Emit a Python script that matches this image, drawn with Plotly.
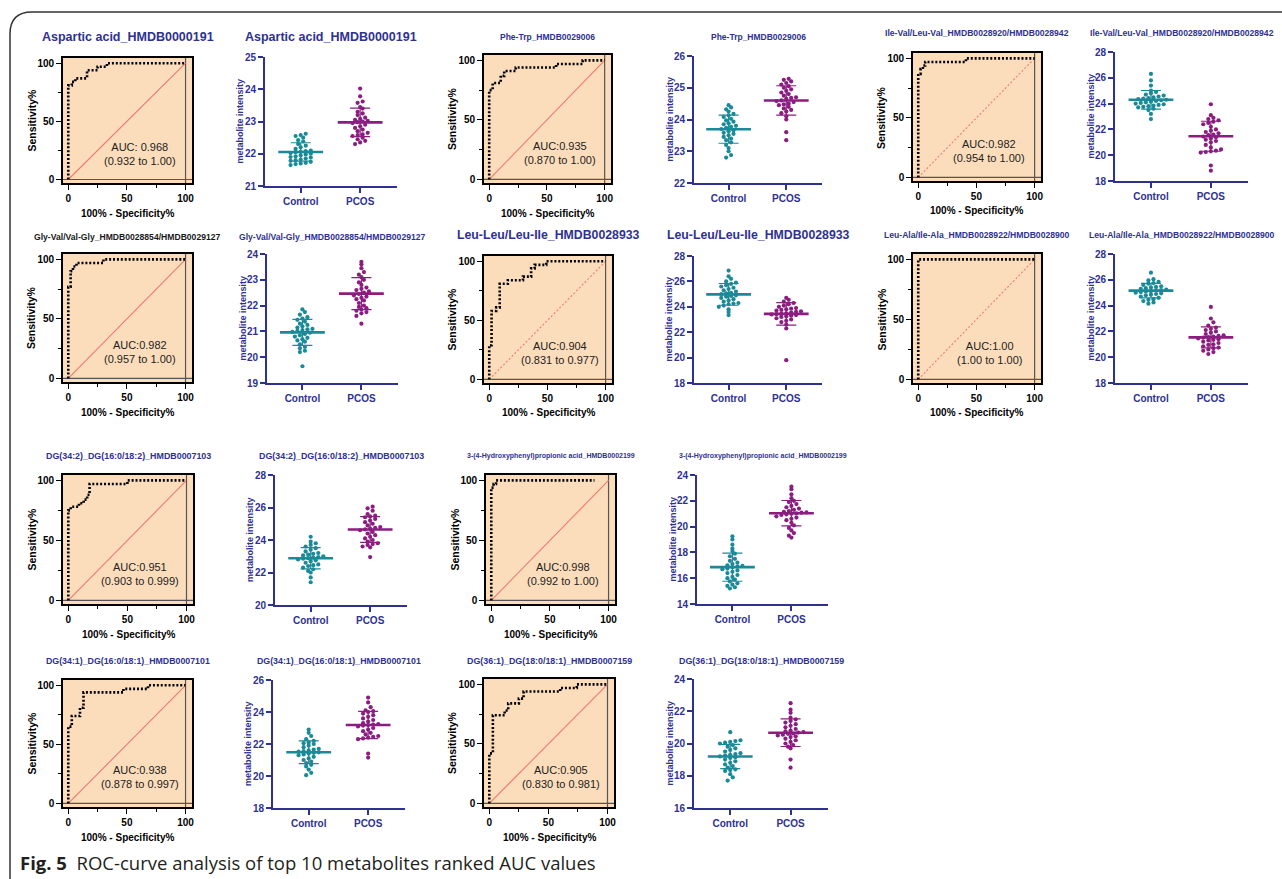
import numpy as np
import plotly.graph_objects as go

W, H = 1282, 879

# ---------------- data ----------------
metabolites = [
    "Aspartic acid_HMDB0000191",
    "Phe-Trp_HMDB0029006",
    "Ile-Val/Leu-Val_HMDB0028920/HMDB0028942",
    "Gly-Val/Val-Gly_HMDB0028854/HMDB0029127",
    "Leu-Leu/Leu-Ile_HMDB0028933",
    "Leu-Ala/Ile-Ala_HMDB0028922/HMDB0028900",
    "DG(34:2)_DG(16:0/18:2)_HMDB0007103",
    "3-(4-Hydroxyphenyl)propionic acid_HMDB0002199",
    "DG(34:1)_DG(16:0/18:1)_HMDB0007101",
    "DG(36:1)_DG(18:0/18:1)_HMDB0007159",
]
auc_labels = ["AUC: 0.968", "AUC:0.935", "AUC:0.982", "AUC:0.982", "AUC:0.904",
              "AUC:1.00", "AUC:0.951", "AUC:0.998", "AUC:0.938", "AUC:0.905"]
ci_labels = ["(0.932 to 1.00)", "(0.870 to 1.00)", "(0.954 to 1.00)", "(0.957 to 1.00)",
             "(0.831 to 0.977)", "(1.00 to 1.00)", "(0.903 to 0.999)", "(0.992 to 1.00)",
             "(0.878 to 0.997)", "(0.830 to 0.981)"]
groups = ["Control", "PCOS"]
chance = [0, 100]

# ROC curves (100% - Specificity%, Sensitivity%)
roc_fpr_asp = [0, 0, 3, 3, 6, 6, 16, 16, 25, 25, 33, 33, 100]
roc_tpr_asp = [0, 81, 81, 84, 84, 87, 87, 94, 94, 97, 97, 100, 100]
roc_fpr_phetrp = [0, 0, 3, 3, 10, 10, 13, 13, 23, 23, 58, 58, 81, 81, 100]
roc_tpr_phetrp = [0, 75, 75, 81, 81, 87, 87, 91, 91, 94, 94, 97, 97, 100, 100]
roc_fpr_ileval = [0, 0, 2, 2, 4, 4, 6, 6, 41, 41, 100]
roc_tpr_ileval = [0, 87, 87, 91, 91, 94, 94, 97, 97, 100, 100]
roc_fpr_glyval = [0, 0, 2, 2, 4, 4, 7, 7, 30, 30, 100]
roc_tpr_glyval = [0, 77, 77, 90, 90, 94, 94, 97, 97, 100, 100]
roc_fpr_leuleu = [0, 0, 2, 2, 6, 6, 9, 9, 16, 16, 29, 29, 36, 36, 39, 39, 49, 49, 100]
roc_tpr_leuleu = [0, 29, 29, 58, 58, 61, 61, 81, 81, 84, 84, 87, 87, 94, 94, 97, 97, 100, 100]
roc_fpr_leuala = [0, 0, 100]
roc_tpr_leuala = [0, 100, 100]
roc_fpr_dg342 = [0, 0, 2, 2, 9, 9, 13, 13, 16, 16, 18, 18, 50, 50, 100]
roc_tpr_dg342 = [0, 75, 75, 78, 78, 81, 81, 84, 84, 88, 88, 97, 97, 100, 100]
roc_fpr_hppa = [0, 0, 2, 2, 4, 4, 88]
roc_tpr_hppa = [0, 94, 94, 97, 97, 100, 100]
roc_fpr_dg341 = [0, 0, 3, 3, 10, 10, 13, 13, 47, 47, 68, 68, 100]
roc_tpr_dg341 = [0, 65, 65, 74, 74, 81, 81, 94, 94, 97, 97, 100, 100]
roc_fpr_dg361 = [0, 0, 3, 3, 13, 13, 16, 16, 25, 25, 29, 29, 60, 60, 74, 74, 100]
roc_tpr_dg361 = [0, 42, 42, 74, 74, 78, 78, 84, 84, 88, 88, 94, 94, 97, 97, 100, 100]

# metabolite intensities
asp_ctrl = [22.62, 22.58, 22.55, 22.5, 22.42, 22.38, 22.3, 22.25, 22.2, 22.15, 22.1, 22.08, 22.06, 22.05, 22.02,
            22.0, 21.98, 21.95, 21.92, 21.9, 21.88, 21.85, 21.82, 21.8, 21.78, 21.75, 21.72, 21.7, 21.68, 21.65]
asp_pcos = [24.02, 23.78, 23.62, 23.58, 23.45, 23.4, 23.3, 23.25, 23.2, 23.12, 23.08, 23.05, 23.02, 23.0, 22.98,
            22.95, 22.9, 22.85, 22.8, 22.75, 22.7, 22.65, 22.6, 22.58, 22.55, 22.5, 22.45, 22.4, 22.35, 22.3]
phetrp_ctrl = [23.74, 23.77, 23.8, 23.85, 23.88, 23.93, 23.97, 24.02, 24.08, 24.13, 24.18, 24.25, 24.32, 24.38, 24.45,
               23.7, 23.66, 23.63, 23.58, 23.55, 23.5, 23.45, 23.4, 23.35, 23.28, 23.2, 23.1, 23.0, 22.88, 22.8]
phetrp_pcos = [24.65, 24.68, 24.7, 24.75, 24.8, 24.85, 24.9, 24.95, 25.0, 25.05, 25.1, 25.15, 25.2, 25.25, 25.28,
               24.6, 24.58, 24.55, 24.5, 24.48, 24.45, 24.4, 24.35, 24.3, 24.25, 24.2, 24.1, 24.0, 23.6, 23.35]
ileval_ctrl = [24.26, 24.3, 24.34, 24.38, 24.42, 24.48, 24.55, 24.62, 24.7, 24.8, 24.9, 25.0, 25.4, 25.8, 26.3,
               24.2, 24.15, 24.1, 24.05, 24.0, 23.95, 23.9, 23.85, 23.8, 23.75, 23.7, 23.6, 23.5, 23.2, 22.8]
ileval_pcos = [21.55, 21.6, 21.7, 21.8, 21.9, 22.0, 22.2, 22.4, 22.5, 22.6, 22.7, 22.8, 22.9, 23.1, 23.95,
               21.45, 21.4, 21.3, 21.2, 21.1, 21.0, 20.8, 20.6, 20.45, 20.35, 20.3, 20.25, 20.2, 19.2, 18.8]
glyval_ctrl = [21.02, 21.05, 21.08, 21.1, 21.15, 21.2, 21.25, 21.3, 21.38, 21.45, 21.5, 21.55, 21.65, 21.75, 21.85,
               20.98, 20.95, 20.9, 20.85, 20.8, 20.75, 20.7, 20.65, 20.6, 20.5, 20.4, 20.35, 20.25, 20.2, 19.65]
glyval_pcos = [22.45, 22.5, 22.55, 22.6, 22.65, 22.7, 22.8, 22.9, 23.0, 23.1, 23.2, 23.3, 23.45, 23.6, 23.7,
               22.4, 22.35, 22.3, 22.25, 22.2, 22.1, 22.0, 21.95, 21.9, 21.85, 21.8, 21.75, 21.7, 21.6, 21.3]
leuleu_ctrl = [25.0, 25.05, 25.1, 25.2, 25.3, 25.4, 25.5, 25.6, 25.7, 25.8, 25.9, 26.0, 26.2, 26.4, 26.85,
               24.9, 24.85, 24.8, 24.7, 24.6, 24.5, 24.4, 24.3, 24.25, 24.2, 24.1, 24.0, 23.8, 23.6, 23.35]
leuleu_pcos = [23.55, 23.6, 23.65, 23.7, 23.75, 23.8, 23.85, 23.9, 24.0, 24.1, 24.2, 24.3, 24.4, 24.55, 24.7,
               23.48, 23.45, 23.42, 23.4, 23.35, 23.3, 23.25, 23.2, 23.1, 23.0, 22.9, 22.8, 22.6, 22.3, 19.8]
leuala_ctrl = [25.18, 25.2, 25.25, 25.3, 25.35, 25.4, 25.45, 25.5, 25.6, 25.7, 25.75, 25.85, 25.95, 26.05, 26.55,
               25.12, 25.1, 25.05, 25.0, 24.95, 24.9, 24.85, 24.8, 24.7, 24.6, 24.5, 24.45, 24.35, 24.25, 24.15]
leuala_pcos = [21.52, 21.55, 21.6, 21.65, 21.7, 21.8, 21.9, 22.0, 22.1, 22.2, 22.3, 22.45, 22.7, 23.0, 23.9,
               21.45, 21.4, 21.35, 21.3, 21.2, 21.1, 21.0, 20.95, 20.85, 20.75, 20.7, 20.6, 20.5, 20.4, 20.25]
dg342_ctrl = [22.92, 22.95, 23.0, 23.05, 23.1, 23.15, 23.2, 23.3, 23.4, 23.5, 23.6, 23.7, 23.8, 23.9, 24.2,
              22.88, 22.85, 22.8, 22.75, 22.7, 22.6, 22.5, 22.45, 22.4, 22.3, 22.2, 22.1, 22.0, 21.7, 21.4]
dg342_pcos = [24.7, 24.75, 24.8, 24.9, 25.0, 25.1, 25.2, 25.3, 25.4, 25.45, 25.5, 25.6, 25.8, 25.95, 26.05,
              24.65, 24.6, 24.5, 24.4, 24.3, 24.2, 24.1, 24.0, 23.9, 23.8, 23.75, 23.7, 23.6, 23.55, 22.95]
hppa_ctrl = [16.85, 16.9, 16.95, 17.0, 17.1, 17.2, 17.35, 17.5, 17.7, 17.9, 18.1, 18.3, 18.6, 19.0, 19.25,
             16.75, 16.7, 16.6, 16.5, 16.4, 16.25, 16.1, 16.0, 15.9, 15.75, 15.6, 15.5, 15.4, 15.3, 15.2]
hppa_pcos = [21.08, 21.1, 21.15, 21.2, 21.3, 21.4, 21.5, 21.6, 21.75, 21.9, 22.0, 22.2, 22.5, 22.9, 23.1,
             21.02, 21.0, 20.95, 20.9, 20.8, 20.7, 20.6, 20.5, 20.3, 20.1, 19.9, 19.7, 19.5, 19.3, 19.15]
dg341_ctrl = [21.52, 21.55, 21.6, 21.65, 21.7, 21.8, 21.9, 22.0, 22.05, 22.1, 22.2, 22.3, 22.5, 22.7, 22.9,
              21.48, 21.45, 21.4, 21.35, 21.3, 21.2, 21.1, 21.0, 20.9, 20.8, 20.7, 20.6, 20.4, 20.2, 20.05]
dg341_pcos = [23.22, 23.25, 23.3, 23.4, 23.5, 23.6, 23.7, 23.8, 23.9, 24.0, 24.05, 24.1, 24.3, 24.6, 24.9,
              23.18, 23.15, 23.1, 23.0, 22.9, 22.8, 22.7, 22.6, 22.5, 22.45, 22.4, 22.35, 22.3, 21.4, 21.15]
dg361_ctrl = [19.25, 19.3, 19.35, 19.4, 19.5, 19.6, 19.7, 19.8, 19.9, 20.0, 20.05, 20.1, 20.15, 20.2, 20.7,
              19.2, 19.15, 19.1, 19.0, 18.9, 18.8, 18.7, 18.6, 18.5, 18.4, 18.35, 18.3, 18.1, 17.9, 17.7]
dg361_pcos = [20.68, 20.7, 20.75, 20.8, 20.9, 21.0, 21.1, 21.2, 21.3, 21.4, 21.5, 21.6, 21.9, 22.1, 22.5,
              20.62, 20.6, 20.55, 20.5, 20.45, 20.4, 20.3, 20.2, 20.1, 20.0, 19.9, 19.8, 19.7, 19.0, 18.5]

# y-axis scales of the dot plots (min, max, tick step)
scatter_scales = [(21, 25, 1), (22, 26, 1), (18, 28, 2), (19, 24, 1), (18, 28, 2),
                  (18, 28, 2), (20, 28, 2), (14, 24, 2), (18, 26, 2), (16, 24, 2)]

roc_sets = [(roc_fpr_asp, roc_tpr_asp), (roc_fpr_phetrp, roc_tpr_phetrp), (roc_fpr_ileval, roc_tpr_ileval),
            (roc_fpr_glyval, roc_tpr_glyval), (roc_fpr_leuleu, roc_tpr_leuleu), (roc_fpr_leuala, roc_tpr_leuala),
            (roc_fpr_dg342, roc_tpr_dg342), (roc_fpr_hppa, roc_tpr_hppa), (roc_fpr_dg341, roc_tpr_dg341),
            (roc_fpr_dg361, roc_tpr_dg361)]
dot_sets = [(asp_ctrl, asp_pcos), (phetrp_ctrl, phetrp_pcos), (ileval_ctrl, ileval_pcos),
            (glyval_ctrl, glyval_pcos), (leuleu_ctrl, leuleu_pcos), (leuala_ctrl, leuala_pcos),
            (dg342_ctrl, dg342_pcos), (hppa_ctrl, hppa_pcos), (dg341_ctrl, dg341_pcos), (dg361_ctrl, dg361_pcos)]

# ---------------- layout (pixel boxes) ----------------
roc_boxes = [(63, 192, 58, 183), (484, 611, 55, 183), (913, 1041, 53, 181),
             (63, 192, 254, 382), (484, 612, 256, 383), (913, 1041, 254, 383),
             (63, 193, 475, 604), (486, 615, 475, 604), (63, 192, 680, 807), (484, 614, 679, 807)]
dot_boxes = [(265, 397, 57, 186), (694, 822, 56, 183), (1115, 1248, 52, 181),
             (267, 398, 254, 383), (694, 822, 256, 383), (1115, 1248, 254, 383),
             (275, 407, 475, 605), (697, 828, 475, 604), (273, 405, 680, 808), (694, 828, 679, 808)]
title_y = [37, 37.5, 33, 236.5, 235, 235, 456, 456, 660.5, 660.5]
title_size = [12.5, 8.5, 8.6, 8.6, 12.3, 8.6, 8.9, 7.0, 8.8, 8.9]
roc_title_color = ["#2E3192"] * 10
roc_title_color[3] = "#1a1a1a"
diag_dash = ["solid", "solid", "2px,2px", "solid", "2px,2px", "2px,2px", "solid", "solid", "solid", "solid"]

NAVY = "#2E3192"
TEAL = "#1A8A98"
PURPLE = "#8B1C80"
PEACH = "#FCDDBB"
FONT = "Arial, Liberation Sans, sans-serif"
group_colors = [TEAL, PURPLE]


def dom_x(a, b):
    return [a / W, b / W]


def dom_y(top, bottom):
    return [1 - bottom / H, 1 - top / H]


def px(x):
    return x / W


def py(y):
    return 1 - y / H


def swarm(vals, center, binw, step, maxhalf):
    v = np.asarray(vals, dtype=float)
    bins = np.floor(v / binw).astype(int)
    xs = np.zeros(len(v))
    for b in np.unique(bins):
        idx = np.where(bins == b)[0]
        idx = idx[np.argsort(v[idx])]
        k = len(idx)
        st = min(step, 2 * maxhalf / max(k - 1, 1))
        for j, ii in enumerate(idx):
            xs[ii] = center + (j - (k - 1) / 2) * st
    return xs


def label(x, y, text, size, color, bold=True, angle=0):
    return dict(xref="paper", yref="paper", x=px(x), y=py(y), xanchor="center", yanchor="middle",
                text=text, textangle=angle, showarrow=False,
                font=dict(family=FONT, size=size, color=color, weight="bold" if bold else "normal"))


fig = go.Figure()
axes = {}
annotations = []
shapes = []

for i in range(10):
    a_roc = 2 * i + 1
    a_dot = 2 * i + 2
    sr = "" if a_roc == 1 else str(a_roc)
    sd = str(a_dot)

    # ---------- ROC panel ----------
    x0, x1, y0, y1 = roc_boxes[i]
    common = dict(tickvals=[0, 50, 100], ticks="outside", ticklen=5, tickwidth=1.3, tickcolor="black",
                  showline=True, mirror=True, linecolor="black", linewidth=1.6,
                  showgrid=False, zeroline=False, automargin=False,
                  tickfont=dict(family=FONT, size=10, color="black", weight="bold"),
                  minor=dict(tickvals=[25, 75], ticks="outside", ticklen=3, tickwidth=1.1,
                             tickcolor="black", showgrid=False))
    axes["xaxis" + sr] = dict(domain=dom_x(x0, x1), anchor="y" + sr, range=[-4.5, 105.5], **common)
    axes["yaxis" + sr] = dict(domain=dom_y(y0, y1), anchor="x" + sr, range=[-3, 104.5], **common)
    shapes.append(dict(type="rect", xref=f"x{sr} domain", yref=f"y{sr} domain",
                       x0=0, x1=1, y0=0, y1=1, fillcolor=PEACH, line=dict(width=0), layer="below"))
    shapes.append(dict(type="line", xref=f"x{sr} domain", yref="y" + sr,
                       x0=0, x1=1, y0=chance[0], y1=chance[0], line=dict(color="#555555", width=1.2),
                       layer="below"))
    shapes.append(dict(type="line", xref="x" + sr, yref=f"y{sr} domain",
                       x0=chance[1], x1=chance[1], y0=0, y1=1, line=dict(color="#555555", width=1.2),
                       layer="below"))
    fig.add_trace(go.Scatter(x=chance, y=chance, mode="lines", xaxis="x" + sr, yaxis="y" + sr,
                             line=dict(color="#F07A6E", width=1.1, dash=diag_dash[i]),
                             hoverinfo="skip", showlegend=False))
    fpr, tpr = roc_sets[i]
    fig.add_trace(go.Scatter(x=fpr, y=tpr, mode="lines", xaxis="x" + sr, yaxis="y" + sr,
                             line=dict(color="black", width=2.6, dash="2px,1.9px"),
                             showlegend=False))
    annotations.append(dict(xref="x" + sr, yref="y" + sr, x=61, y=22, xanchor="center", yanchor="middle",
                            text=f"{auc_labels[i]}<br>{ci_labels[i]}", showarrow=False,
                            font=dict(family=FONT, size=11, color="#222222")))
    annotations.append(label(x0 - 32, (y0 + y1) / 2, "Sensitivity%", 10.5, "black", angle=-90))
    annotations.append(label((x0 + x1) / 2, y1 + 30, "100% - Specificity%", 10, "black"))
    annotations.append(label((x0 + x1) / 2, title_y[i], metabolites[i], title_size[i], roc_title_color[i]))

    # ---------- dot plot panel ----------
    d0, d1, e0, e1 = dot_boxes[i]
    lo, hi, step = scatter_scales[i]
    axes["xaxis" + sd] = dict(
        domain=dom_x(d0, d1), anchor="y" + sd, range=[-0.6, 1.62], automargin=False,
        tickvals=[0, 1], ticktext=groups, ticks="outside", ticklen=5, tickwidth=1.5, tickcolor=NAVY,
        showline=True, linecolor=NAVY, linewidth=2, showgrid=False, zeroline=False,
        tickfont=dict(family=FONT, size=10, color=NAVY, weight="bold"),
    )
    axes["yaxis" + sd] = dict(
        domain=dom_y(e0, e1), anchor="x" + sd, range=[lo, hi], tick0=lo, dtick=step, automargin=False,
        ticks="outside", ticklen=5, tickwidth=1.5, tickcolor=NAVY,
        showline=True, linecolor=NAVY, linewidth=2, showgrid=False, zeroline=False,
        tickfont=dict(family=FONT, size=10, color=NAVY, weight="bold"),
    )
    span = hi - lo
    for g, vals in enumerate(dot_sets[i]):
        col = group_colors[g]
        xs = swarm(vals, g, span * 0.032, 0.085, 0.32)
        fig.add_trace(go.Scatter(x=xs, y=vals, mode="markers", xaxis="x" + sd, yaxis="y" + sd,
                                 marker=dict(color=col, size=4.2, line=dict(width=0)),
                                 showlegend=False))
        m = float(np.mean(vals))
        s = float(np.std(vals, ddof=1))
        fig.add_trace(go.Scatter(x=[g], y=[m], mode="markers", xaxis="x" + sd, yaxis="y" + sd,
                                 marker=dict(symbol="line-ew", size=32, color=col,
                                             line=dict(width=2.6, color=col)),
                                 error_y=dict(type="data", array=[s], visible=True, color=col,
                                              thickness=1.2, width=10),
                                 showlegend=False))
    annotations.append(label(d0 - 25, (e0 + e1) / 2, "metabolite intensity", 9, NAVY, angle=-90))
    annotations.append(label((d0 + d1) / 2, title_y[i], metabolites[i], title_size[i], NAVY))

# caption
annotations.append(dict(xref="paper", yref="paper", x=px(18), y=py(862), xanchor="left",
                        yanchor="middle", showarrow=False,
                        text="<b>Fig. 5</b>  ROC-curve analysis of top 10 metabolites ranked AUC values",
                        font=dict(family="Open Sans, Noto Sans, sans-serif", size=18.5, color="#231f20")))

# frame with rounded corner
frame_path = (f"M {px(10)},{py(900)} L {px(10)},{py(34)} "
              f"Q {px(10)},{py(12)} {px(32)},{py(12)} L {px(1300)},{py(12)}")
shapes.append(dict(type="path", xref="paper", yref="paper", path=frame_path,
                   line=dict(color="#333333", width=1.5)))

fig.update_layout(
    width=W, height=H, margin=dict(l=0, r=0, t=0, b=0, autoexpand=False),
    paper_bgcolor="white", plot_bgcolor="white", showlegend=False,
    annotations=annotations, shapes=shapes, **axes,
)

fig.write_html(
    "out.html",
    config={"responsive": False, "displayModeBar": False},
    post_script=("document.documentElement.style.margin='0';document.body.style.margin='0';"
                 "document.body.style.padding='0';document.body.style.overflow='hidden';"),
)
